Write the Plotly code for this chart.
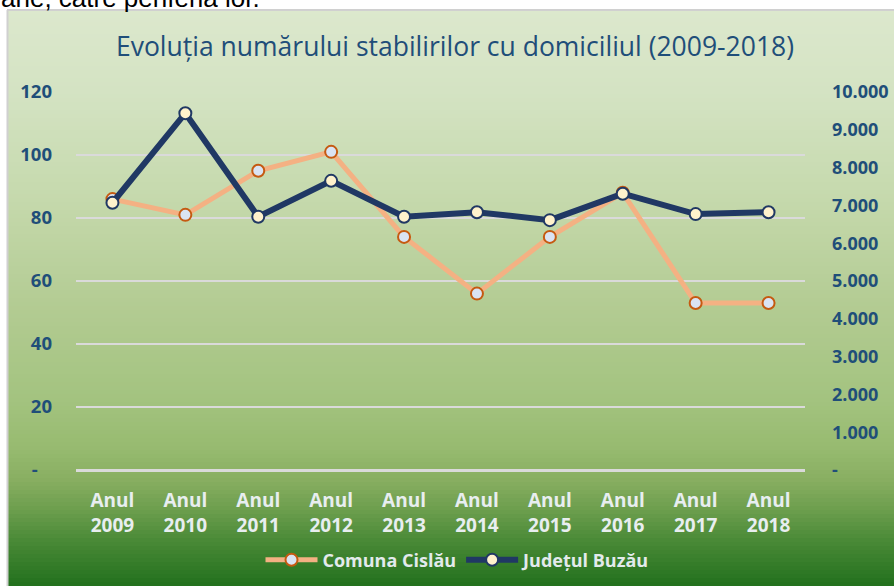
import plotly.graph_objects as go

# ---- data ----
years = ["Anul<br>2009", "Anul<br>2010", "Anul<br>2011", "Anul<br>2012", "Anul<br>2013",
         "Anul<br>2014", "Anul<br>2015", "Anul<br>2016", "Anul<br>2017", "Anul<br>2018"]
comuna_cislau = [86, 81, 95, 101, 74, 56, 74, 88, 53, 53]
judetul_buzau = [7070, 9440, 6700, 7650, 6700, 6820, 6610, 7310, 6770, 6820]

left_tickvals = [0, 20, 40, 60, 80, 100, 120]
left_ticktext = ["-\u00a0\u00a0\u00a0", "20", "40", "60", "80", "100", "120"]
right_tickvals = [0, 1000, 2000, 3000, 4000, 5000, 6000, 7000, 8000, 9000, 10000]
right_ticktext = ["-", "1.000", "2.000", "3.000", "4.000", "5.000", "6.000",
                  "7.000", "8.000", "9.000", "10.000"]

title_text = "Evoluția numărului stabilirilor cu domiciliul (2009-2018)"
top_text = "ane, către periferia lor."

# ---- layout geometry (pixels) ----
W, H = 894, 586
ML, MR, MT, MB = 76, 89, 92, 116
PW, PH = W - ML - MR, H - MT - MB


def px_x(p):
    return (p - ML) / PW


def px_y(p):
    return (H - MB - p) / PH


def hex2rgb(h):
    h = h.lstrip("#")
    return tuple(int(h[i:i + 2], 16) for i in (0, 2, 4))


stops = [(10, "#dce8cd"), (92, "#d4e3c3"), (200, "#c5d9ac"), (300, "#b4cc94"),
         (400, "#a3c37f"), (450, "#96ba6f"), (480, "#88ae61"), (510, "#6c9e4d"),
         (540, "#4a8a37"), (586, "#22701d")]


def color_at(p):
    for (p0, c0), (p1, c1) in zip(stops[:-1], stops[1:]):
        if p0 <= p <= p1:
            t = (p - p0) / (p1 - p0)
            a, b = hex2rgb(c0), hex2rgb(c1)
            return "rgb(%d,%d,%d)" % tuple(round(a[i] + (b[i] - a[i]) * t) for i in range(3))
    return stops[-1][1]


shapes = []
step = 4
p = 10
while p < H:
    p2 = min(p + step, H)
    shapes.append(dict(type="rect", xref="paper", yref="paper",
                       x0=px_x(8), x1=px_x(W + 2), y0=px_y(p2 + 0.5), y1=px_y(p),
                       fillcolor=color_at((p + p2) / 2), line=dict(width=0), layer="below"))
    p = p2

# chart border (left and top)
shapes.append(dict(type="line", xref="paper", yref="paper", x0=px_x(7.5), x1=px_x(7.5),
                   y0=px_y(H + 2), y1=px_y(10), line=dict(color="#d0d0d0", width=2), layer="below"))
shapes.append(dict(type="line", xref="paper", yref="paper", x0=px_x(7), x1=px_x(W + 2),
                   y0=px_y(10), y1=px_y(10), line=dict(color="#d0d0d0", width=2), layer="below"))

fig = go.Figure()
fig.add_trace(go.Scatter(
    x=years, y=comuna_cislau, name="Comuna Cislău", mode="lines+markers",
    line=dict(color="#f4b183", width=5),
    marker=dict(symbol="circle", size=12, color="#dae3f3", line=dict(color="#c55a11", width=2)),
    yaxis="y"))
fig.add_trace(go.Scatter(
    x=years, y=judetul_buzau, name="Județul Buzău", mode="lines+markers",
    line=dict(color="#203864", width=6),
    marker=dict(symbol="circle", size=12, color="#fff2cc", line=dict(color="#203864", width=2)),
    yaxis="y2"))

axis_font = dict(family="Open Sans", size=18, color="#1f4e79", weight="bold")

fig.update_layout(
    width=W, height=H, autosize=False,
    margin=dict(l=ML, r=MR, t=MT, b=MB, pad=0, autoexpand=False),
    paper_bgcolor="white", plot_bgcolor="rgba(0,0,0,0)",
    shapes=shapes,
    title=dict(text=title_text, x=455 / W, xanchor="center", y=1 - 47 / H, yanchor="middle",
               xref="container", yref="container", automargin=False,
               font=dict(family="Open Sans", size=26.5, color="#1f4e79")),
    xaxis=dict(showgrid=False, showline=False, zeroline=False, ticks="", automargin=False,
               range=[-0.5, len(years) - 0.5],
               tickfont=dict(family="Open Sans", size=19, color="#e8eef0", weight="bold"),
               ticklabelstandoff=17, fixedrange=True),
    yaxis=dict(range=[0, 120], tickvals=left_tickvals, ticktext=left_ticktext, automargin=False,
               showgrid=True, gridcolor="#dadada", gridwidth=1.5,
               zeroline=True, zerolinecolor="#dadada", zerolinewidth=2.5,
               showline=False, ticks="", ticklabelstandoff=23,
               tickfont=dict(axis_font, size=18.5), fixedrange=True),
    yaxis2=dict(range=[0, 10000], tickvals=right_tickvals, ticktext=right_ticktext,
                overlaying="y", side="right", showgrid=False, zeroline=False, automargin=False,
                showline=False, ticks="", ticklabelstandoff=26,
                tickfont=axis_font, fixedrange=True),
    legend=dict(orientation="h", x=px_x(458), xanchor="center", y=px_y(560), yanchor="middle",
                bgcolor="rgba(0,0,0,0)", font=dict(family="Open Sans", size=18, color="#e3eaec",
                                                   weight="bold"),
                itemwidth=52, tracegroupgap=0),
    annotations=[dict(text=top_text, xref="paper", yref="paper", x=px_x(-1), xanchor="left",
                      y=px_y(15), yanchor="bottom", showarrow=False,
                      font=dict(family="Liberation Sans", size=26, color="black"))],
    showlegend=True,
)

fig.write_html("out.html", config={"displayModeBar": False},
               post_script="document.body.style.margin='0';document.body.style.overflow='hidden';")
